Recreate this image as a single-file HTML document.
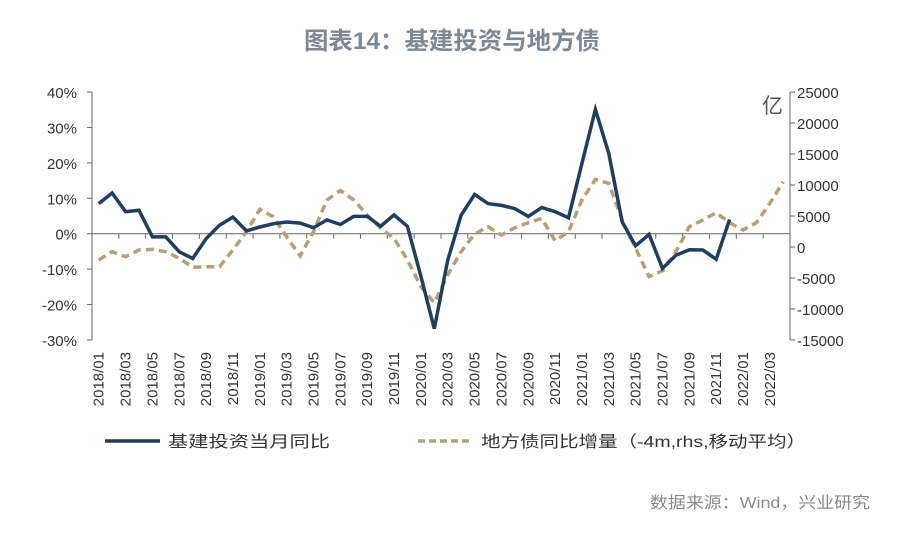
<!DOCTYPE html>
<html><head><meta charset="utf-8"><style>
html,body{margin:0;padding:0;background:#fff;}
svg{display:block;font-family:"Liberation Sans","Noto Sans CJK SC",sans-serif;}
</style></head><body>
<svg id="chart" width="900" height="544" viewBox="0 0 900 544">
<text x="452" y="49" text-anchor="middle" font-size="24" font-weight="bold" fill="#7d8895" textLength="296" lengthAdjust="spacingAndGlyphs">图表14：基建投资与地方债</text>
<g id="axes"></g>
<g id="series"></g>
<text x="762" y="113" font-size="21" fill="#555">亿</text>
<g>
<line x1="105" y1="441" x2="160" y2="441" stroke="#203e5e" stroke-width="3.5"/>
<text x="168" y="447" font-size="16" fill="#333" textLength="162" lengthAdjust="spacingAndGlyphs">基建投资当月同比</text>
<line x1="418" y1="441" x2="472" y2="441" stroke="#b89f76" stroke-width="3.5" stroke-dasharray="7,4"/>
<text x="481" y="447" font-size="16" fill="#333" textLength="325" lengthAdjust="spacingAndGlyphs">地方债同比增量（-4m,rhs,移动平均）</text>
</g>
<text x="870" y="508" text-anchor="end" font-size="16" fill="#8a8a8a" textLength="220" lengthAdjust="spacingAndGlyphs">数据来源：Wind，兴业研究</text>
</svg>
<script>
const categories = [];
for (let y = 2018; y <= 2022; y++) for (let m = 1; m <= 12; m++) { if (y === 2022 && m > 4) break; categories.push(y + '/' + String(m).padStart(2, '0')); }
const infraYoY = [8.5,11.5,6.2,6.6,-0.9,-0.9,-5.1,-7,-1.4,2.4,4.7,0.8,1.9,2.8,3.3,3.0,1.7,3.9,2.6,4.9,4.9,2.1,5.3,2.1,-12,-26.8,-7.5,5.2,11.1,8.5,8,7.1,4.9,7.4,6.2,4.5,19.8,35.1,22.6,3.3,-3.4,-0.2,-9.8,-6.1,-4.5,-4.6,-7.2,4.0];
const localBond = [-2100,-750,-1560,-480,-380,-750,-1820,-3280,-3170,-3170,-480,2460,6080,4890,1660,-1450,2460,7580,9090,7580,5160,3010,1400,-2100,-6400,-9000,-4500,-750,2100,3280,1940,3120,3920,4620,1020,2470,7580,10900,10270,4350,-220,-4780,-3820,-750,3280,4350,5540,3920,2740,3920,7050,10530];
const leftTicks = [40,30,20,10,0,-10,-20,-30];
const rightTicks = [25000,20000,15000,10000,5000,0,-5000,-10000,-15000];

const NS = 'http://www.w3.org/2000/svg';
const X0 = 92, X1 = 790, TOP = 92, BOT = 340;
const bw = (X1 - X0) / categories.length;
const xPos = i => X0 + bw * (i + 0.5);
const yL = v => TOP + (40 - v) / 70 * (BOT - TOP);
const yR = v => TOP + (25000 - v) / 40000 * (BOT - TOP);
function mk(tag, attrs, parent) { const e = document.createElementNS(NS, tag); for (const k in attrs) e.setAttribute(k, attrs[k]); parent.appendChild(e); return e; }
const axes = document.getElementById('axes'), series = document.getElementById('series');
const ax = '#666';

let e = mk('line', {x1: X0, y1: TOP, x2: X0, y2: BOT, stroke: ax, 'stroke-width': 1}, axes);


e = mk('line', {x1: X1, y1: TOP, x2: X1, y2: BOT, stroke: ax, 'stroke-width': 1}, axes);


e = mk('line', {x1: X0, y1: yL(0), x2: X1, y2: yL(0), stroke: ax, 'stroke-width': 1}, axes);



leftTicks.forEach(v => {
  const y = yL(v);
  mk('line', {x1: X0 - 5, y1: y, x2: X0, y2: y, stroke: ax}, axes);
  const t = mk('text', {x: 77, y: y + 6, 'text-anchor': 'end', 'font-size': 15, fill: '#333'}, axes);
  t.textContent = v + '%';
  
  
});
rightTicks.forEach(v => {
  const y = yR(v);
  mk('line', {x1: X1, y1: y, x2: X1 + 5, y2: y, stroke: ax}, axes);
  const t = mk('text', {x: 797, y: y + 6, 'font-size': 15, fill: '#333'}, axes);
  t.textContent = v;
  
  
});
categories.forEach((c, i) => {
  if (i % 2 === 0) {
    const xb = X0 + bw * i;
    mk('line', {x1: xb, y1: yL(0), x2: xb, y2: yL(0) + 5, stroke: ax}, axes);
    const x = xPos(i) + 5, y = 352;
    const t = mk('text', {x: x, y: y, 'text-anchor': 'end', 'font-size': 15, fill: '#333', transform: 'rotate(-90 ' + x + ' ' + y + ')'}, axes);
    t.textContent = c;
    
    
  }
});

const bondPath = localBond.map((v, i) => (i ? 'L' : 'M') + xPos(i).toFixed(1) + ' ' + yR(v).toFixed(1)).join(' ');
e = mk('path', {d: bondPath, fill: 'none', stroke: '#b89f76', 'stroke-width': 3.5, 'stroke-dasharray': '8,5'}, series);


const infraPath = infraYoY.map((v, i) => (i ? 'L' : 'M') + xPos(i).toFixed(1) + ' ' + yL(v).toFixed(1)).join(' ');
e = mk('path', {d: infraPath, fill: 'none', stroke: '#203e5e', 'stroke-width': 3.5, 'stroke-linejoin': 'miter'}, series);


</script>
</body></html>
